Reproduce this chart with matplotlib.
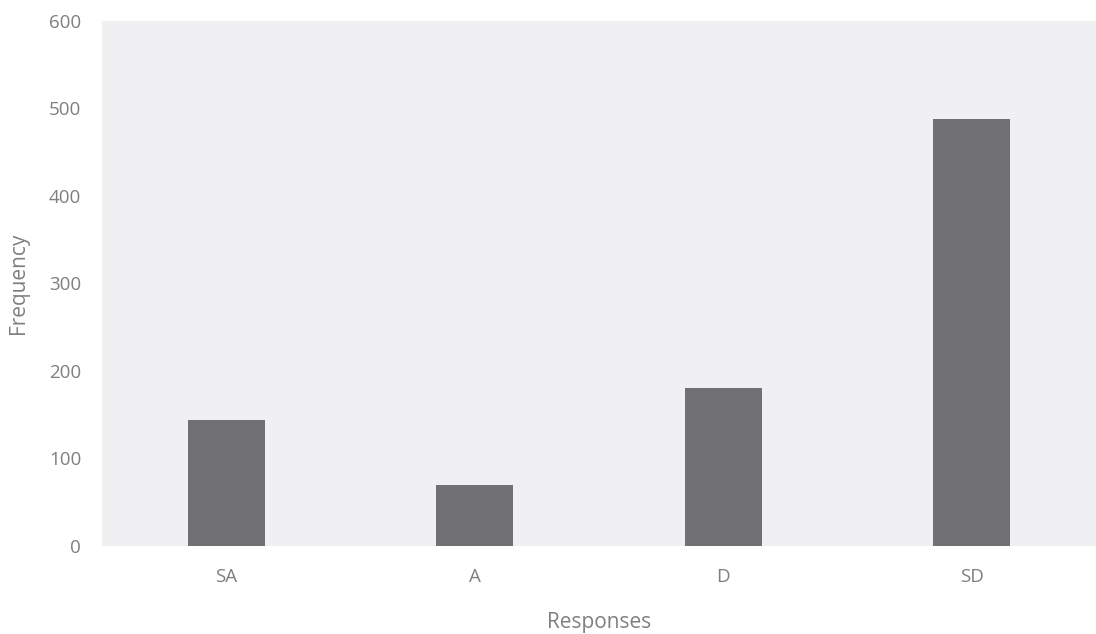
import matplotlib
matplotlib.use("Agg")
import matplotlib.pyplot as plt

categories = ["SA", "A", "D", "SD"]
frequency = [144, 70, 180, 488]
yticks = [0, 100, 200, 300, 400, 500, 600]

plt.rcParams['font.family'] = ['Open Sans', 'DejaVu Sans']

fig = plt.figure(figsize=(10.96, 6.34), dpi=100)
ax = fig.add_axes([0.093, 0.139, 0.907, 0.828])
ax.set_facecolor("#f0eff2")

x = list(range(len(categories)))
ax.bar(x, frequency, width=0.31, color="#717175")
ax.set_xlim(-0.5, 3.5)
ax.set_ylim(0, 600)
ax.set_yticks(yticks)
ax.set_yticklabels([str(t) for t in yticks])
ax.set_xticks(x)
ax.set_xticklabels(categories)
for s in ax.spines.values():
    s.set_visible(False)
ax.tick_params(axis='both', length=0, colors="#7f7f7f", labelsize=13.5)
ax.tick_params(axis='y', pad=15)
ax.tick_params(axis='x', pad=16)
ax.set_xlabel("Responses", color="#7f7f7f", fontsize=15, labelpad=19)
ax.set_ylabel("Frequency", color="#7f7f7f", fontsize=15, labelpad=14)

fig.savefig("out.png", dpi=100)
